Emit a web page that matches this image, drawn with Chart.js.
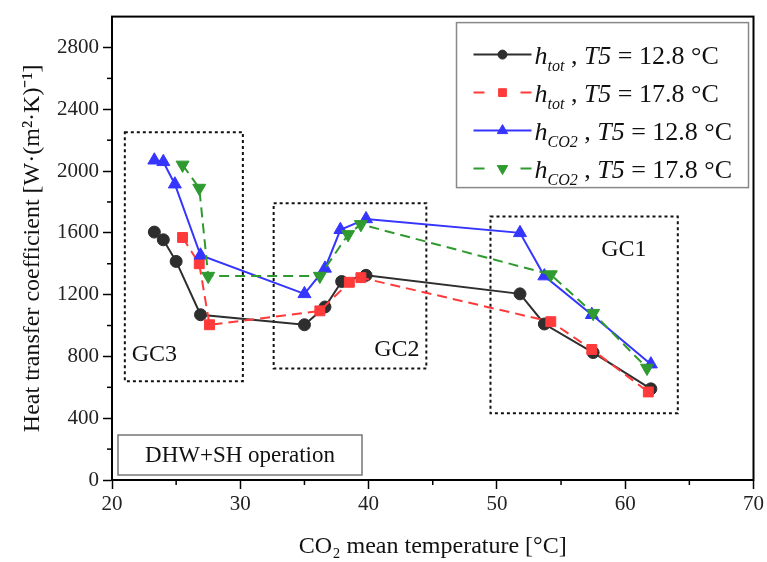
<!DOCTYPE html>
<html lang="en">
<head>
<meta charset="UTF-8">
<title>Heat transfer coefficient vs CO2 mean temperature</title>
<script src="https://cdn.jsdelivr.net/npm/chart.js"></script>
<style>
  body { margin: 0; padding: 0; background: #fff; }
  .chart-wrapper { width: 767px; height: 562px; }
</style>
</head>
<body>
<div class="chart-wrapper"><canvas id="htcChart"></canvas></div>
<script>
// values: CO2 mean temperature [°C] / heat transfer coefficient
const totT128 = [23.3, 24.0, 25.0, 26.9, 35.0, 36.6, 37.9, 39.8, 51.8, 53.7, 57.5, 62.0];
const totH128 = [1605, 1555, 1415, 1070, 1005, 1120, 1285, 1325, 1205, 1010, 825, 590];
const totT178 = [25.5, 26.8, 27.6, 36.2, 38.5, 39.4, 54.2, 57.4, 61.8];
const totH178 = [1570, 1400, 1005, 1095, 1280, 1310, 1025, 845, 570];
const co2T128 = [23.3, 24.0, 24.9, 26.9, 35.0, 36.6, 37.8, 39.8, 51.8, 53.7, 57.4, 62.0];
const co2H128 = [2070, 2060, 1915, 1455, 1205, 1370, 1620, 1690, 1600, 1320, 1070, 750];
const co2T178 = [25.5, 26.8, 27.5, 36.2, 38.4, 39.4, 54.2, 57.5, 61.7];
const co2H178 = [2040, 1890, 1320, 1320, 1590, 1655, 1330, 1080, 725];

const xTicks = [20, 30, 40, 50, 60, 70];
const yTicks = [0, 400, 800, 1200, 1600, 2000, 2400, 2800];
const xMinor = [25, 35, 45, 55, 65];
const yMinor = [200, 600, 1000, 1400, 1800, 2200, 2600];

// dotted regions (data units)
const gcNames = ['GC3', 'GC2', 'GC1'];
const gcX = [[21.0, 30.2], [32.6, 44.5], [49.5, 64.1]];
const gcY = [[640, 2252], [722, 1792], [432, 1706]];
const gcLabelAt = [[23.3, 813], [42.2, 844], [59.9, 1490]];

const serif = '"Liberation Serif", "Times New Roman", serif';
Chart.defaults.font.family = serif;
Chart.defaults.color = '#111';

const pts = (xs, ys) => xs.map((x, i) => ({ x, y: ys[i] }));

const series = [
  { sub: 'tot', temp: '12.8', data: pts(totT128, totH128), color: '#2e2e2e', style: 'circle', r: 6, rot: 0, dash: [] },
  { sub: 'tot', temp: '17.8', data: pts(totT178, totH178), color: '#ff3a3a', style: 'rect', r: 7, rot: 0, dash: [10, 6] },
  { sub: 'CO2', temp: '12.8', data: pts(co2T128, co2H128), color: '#3535ff', style: 'triangle', r: 7.5, rot: 0, dash: [] },
  { sub: 'CO2', temp: '17.8', data: pts(co2T178, co2H178), color: '#2f9a2f', style: 'triangle', r: 7.5, rot: 180, dash: [10, 6] }
];

function richText(ctx, parts, x, y) {
  parts.forEach(p => {
    ctx.font = p.font;
    ctx.fillText(p.t, x, y + (p.dy || 0));
    x += ctx.measureText(p.t).width;
  });
}

const decor = {
  id: 'decor',
  beforeDatasetsDraw(chart) {
    const { ctx, scales: { x, y } } = chart;
    ctx.save();
    ctx.strokeStyle = '#111';
    ctx.lineWidth = 2;
    ctx.setLineDash([3, 3]);
    gcNames.forEach((n, i) => {
      const x0 = x.getPixelForValue(gcX[i][0]), x1 = x.getPixelForValue(gcX[i][1]);
      const y0 = y.getPixelForValue(gcY[i][1]), y1 = y.getPixelForValue(gcY[i][0]);
      ctx.strokeRect(x0, y0, x1 - x0, y1 - y0);
    });
    ctx.setLineDash([]);
    ctx.fillStyle = '#111';
    ctx.font = '24px ' + serif;
    ctx.textAlign = 'center';
    ctx.textBaseline = 'middle';
    gcNames.forEach((n, i) => {
      ctx.fillText(n, x.getPixelForValue(gcLabelAt[i][0]), y.getPixelForValue(gcLabelAt[i][1]));
    });
    ctx.restore();
  },
  afterDraw(chart) {
    const { ctx, chartArea: a, scales: { x, y } } = chart;
    ctx.save();
    // minor ticks
    ctx.strokeStyle = '#000';
    ctx.lineWidth = 1.5;
    xMinor.forEach(v => {
      const px = x.getPixelForValue(v);
      ctx.beginPath(); ctx.moveTo(px, a.bottom); ctx.lineTo(px, a.bottom + 5); ctx.stroke();
    });
    yMinor.forEach(v => {
      const py = y.getPixelForValue(v);
      ctx.beginPath(); ctx.moveTo(a.left, py); ctx.lineTo(a.left - 5, py); ctx.stroke();
    });
    // frame
    ctx.lineWidth = 2;
    ctx.strokeRect(a.left, a.top, a.right - a.left, a.bottom - a.top);

    // DHW+SH box
    ctx.strokeStyle = '#777';
    ctx.lineWidth = 1.5;
    ctx.strokeRect(a.left + 6, a.bottom - 45, 244, 40);
    ctx.fillStyle = '#111';
    ctx.font = '23px ' + serif;
    ctx.textAlign = 'center';
    ctx.textBaseline = 'middle';
    ctx.fillText('DHW+SH operation', a.left + 128, a.bottom - 24);

    // legend
    const bx = a.right - 297, by = a.top + 6;
    ctx.strokeStyle = '#888';
    ctx.strokeRect(bx, by, 292, 165);
    ctx.textAlign = 'left';
    ctx.textBaseline = 'alphabetic';
    series.forEach((s, i) => {
      const ly = by + 32 + i * 38;
      const x0 = bx + 17, x1 = bx + 75, xm = bx + 46;
      ctx.strokeStyle = s.color;
      ctx.fillStyle = s.color;
      ctx.lineWidth = 2;
      ctx.beginPath();
      if (s.dash.length) {
        ctx.moveTo(x0, ly); ctx.lineTo(x0 + 11, ly);
        ctx.moveTo(x1 - 11, ly); ctx.lineTo(x1, ly);
      } else {
        ctx.moveTo(x0, ly); ctx.lineTo(x1, ly);
      }
      ctx.stroke();
      ctx.lineWidth = 1;
      Chart.helpers.drawPoint(ctx, { pointStyle: s.style, radius: s.r - 1.5, rotation: s.rot, borderWidth: 1 }, xm, ly);
      ctx.fillStyle = '#111';
      richText(ctx, [
        { t: 'h', font: 'italic 26px ' + serif },
        { t: s.sub === 'CO2' ? 'CO2' : 'tot', font: 'italic 16px ' + serif, dy: 7 },
        { t: ' , ', font: '26px ' + serif },
        { t: 'T5', font: 'italic 26px ' + serif },
        { t: ' = ' + s.temp + ' °C', font: '26px ' + serif }
      ], bx + 78, ly + 9);
    });
    ctx.restore();
  }
};

new Chart(document.getElementById('htcChart'), {
  type: 'scatter',
  data: {
    datasets: series.map((s, i) => ({
      label: 'h' + s.sub + ', T5 = ' + s.temp + ' °C',
      data: s.data,
      showLine: true,
      borderColor: s.color,
      backgroundColor: s.color,
      borderWidth: 2,
      borderDash: s.dash,
      pointStyle: s.style,
      pointRadius: s.r,
      pointRotation: s.rot,
      pointBorderWidth: 1,
      order: 4 - i
    }))
  },
  options: {
    responsive: true,
    maintainAspectRatio: false,
    animation: false,
    layout: { padding: { left: 0, right: 12, top: 7, bottom: 0 } },
    plugins: { legend: { display: false }, tooltip: { enabled: false } },
    scales: {
      x: {
        type: 'linear', min: 20, max: 70,
        afterFit: s => { s.height = 82; },
        afterBuildTicks: s => { s.ticks = xTicks.map(v => ({ value: v })); },
        grid: { drawOnChartArea: false, drawTicks: true, tickLength: 9, tickWidth: 1.5, tickColor: '#000' },
        border: { display: true, color: '#000', width: 2 },
        ticks: { font: { size: 21 }, color: '#222', padding: 3, maxRotation: 0, callback: v => String(v) },
        title: { display: true, text: 'CO₂ mean temperature [°C]', font: { size: 24 }, color: '#111', padding: { top: 0, bottom: 1 } }
      },
      y: {
        type: 'linear', min: 0, max: 3000,
        afterFit: s => { s.width = 112; },
        afterBuildTicks: s => { s.ticks = yTicks.map(v => ({ value: v })); },
        grid: { drawOnChartArea: false, drawTicks: true, tickLength: 9, tickWidth: 1.5, tickColor: '#000' },
        border: { display: true, color: '#000', width: 2 },
        ticks: { font: { size: 21 }, color: '#222', padding: 4, callback: v => String(v) },
        title: { display: true, text: 'Heat transfer coefficient [W·(m²·K)⁻¹]', font: { size: 24 }, color: '#111', padding: { top: 18, bottom: 0 } }
      }
    }
  },
  plugins: [decor]
});
</script>
</body>
</html>
